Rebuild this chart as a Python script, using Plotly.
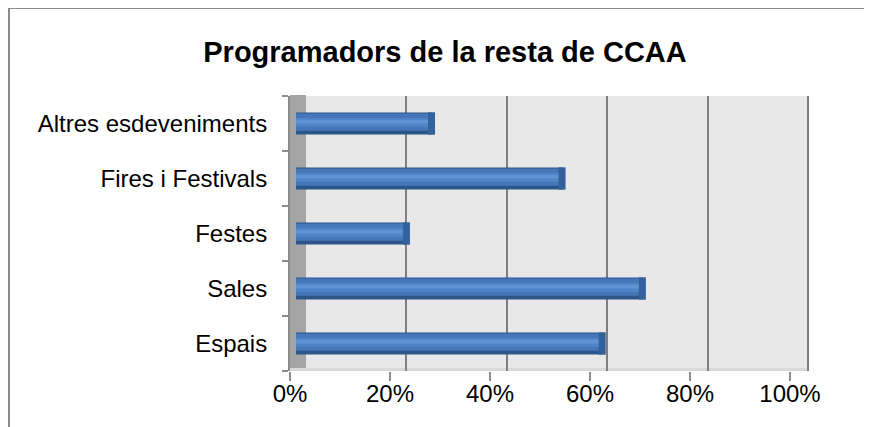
import plotly.graph_objects as go

W, H = 872, 427
# the page body adds an 8px margin, so positions are measured relative to it
PAGE_OFFSET = 8

categories = ["Espais", "Sales", "Festes", "Fires i Festivals", "Altres esdeveniments"]
values = [61, 69, 22, 53, 27]
tick_vals = [0, 20, 40, 60, 80, 100]
tick_text = ["0%", "20%", "40%", "60%", "80%", "100%"]

FONT = "Arial, Liberation Sans, sans-serif"


def px(x):
    return (x - PAGE_OFFSET) / W


def py(y):
    return 1 - (y - PAGE_OFFSET) / H


fig = go.Figure()

# invisible traces so the label axis (x) and grid axis (x2) get drawn
for ax in ["x", "x2"]:
    fig.add_trace(
        go.Scatter(
            x=values, y=categories, xaxis=ax, mode="markers",
            marker={"opacity": 0}, hoverinfo="skip", showlegend=False,
        )
    )

# cylinder look: dark base, main body, light highlight
for width, offset, color in [
    (0.40, -0.20, "#2d5688"),
    (0.31, -0.13, "#4677b8"),
    (0.16, -0.06, "#4f84c8"),
    (0.07, 0.00, "#5e93d4"),
]:
    fig.add_trace(
        go.Bar(
            x=values,
            y=categories,
            orientation="h",
            width=width,
            offset=offset,
            marker={"color": color, "line": {"width": 0}},
            xaxis="x3",
            hoverinfo="skip",
            showlegend=False,
        )
    )

# end caps of the cylinders
fig.add_trace(
    go.Scatter(
        x=values,
        y=categories,
        xaxis="x3",
        mode="markers",
        marker={
            "symbol": "line-ns-open",
            "size": 16,
            "color": "#33619b",
            "line": {"width": 7, "color": "#33619b"},
        },
        hoverinfo="skip",
        showlegend=False,
    )
)

top, floor, bottom = 96, 368, 371

fig.update_layout(
    width=W,
    height=H,
    margin={"l": 0, "r": 0, "t": 0, "b": 0},
    paper_bgcolor="white",
    plot_bgcolor="rgba(0,0,0,0)",
    barmode="overlay",
    font={"family": FONT, "size": 24, "color": "black"},
    title={
        "text": "<b>Programadors de la resta de CCAA</b>",
        "x": px(445),
        "y": py(52),
        "xanchor": "center",
        "yanchor": "middle",
        "font": {"size": 29, "family": FONT},
    },
    xaxis={
        "domain": [px(290), px(790)],
        "range": [0, 100],
        "tickvals": tick_vals,
        "ticktext": tick_text,
        "ticks": "outside",
        "ticklen": 9,
        "tickcolor": "#8c8c8c",
        "tickwidth": 2,
        "ticklabelstandoff": -8,
        "showgrid": False,
        "zeroline": False,
        "automargin": False,
        "fixedrange": True,
    },
    xaxis2={
        "domain": [px(306), px(811)],
        "range": [0, 100.6],
        "anchor": "y",
        "tickvals": [20, 40, 60, 80, 100],
        "showticklabels": False,
        "ticks": "",
        "showgrid": True,
        "gridcolor": "#7f7f7f",
        "gridwidth": 2,
        "zeroline": False,
        "automargin": False,
        "fixedrange": True,
    },
    xaxis3={
        "domain": [px(296), px(798)],
        "range": [0, 100],
        "anchor": "y",
        "visible": False,
        "automargin": False,
        "fixedrange": True,
    },
    yaxis={
        "domain": [py(bottom), py(top)],
        "range": [-0.5, 4.5],
        "type": "category",
        "ticks": "outside",
        "tickson": "boundaries",
        "ticklen": 6,
        "tickcolor": "#8c8c8c",
        "tickwidth": 2,
        "showline": True,
        "linecolor": "#8c8c8c",
        "linewidth": 2,
        "ticklabelstandoff": 16,
        "showgrid": False,
        "automargin": False,
        "fixedrange": True,
    },
    shapes=[
        # back wall
        dict(type="rect", xref="paper", yref="paper", layer="below",
             x0=px(306), x1=px(809), y0=py(floor), y1=py(top),
             fillcolor="#e8e8e8", line={"width": 0}),
        # floor
        dict(type="rect", xref="paper", yref="paper", layer="below",
             x0=px(290), x1=px(809), y0=py(bottom), y1=py(floor),
             fillcolor="#d9d9d9", line={"width": 0}),
        # side wall
        dict(type="rect", xref="paper", yref="paper", layer="below",
             x0=px(290), x1=px(306), y0=py(floor), y1=py(top - 1),
             fillcolor="#a5a5a5", line={"width": 0}),
        # chart border (runs off the window at right and bottom)
        dict(type="line", xref="paper", yref="paper",
             x0=px(9), x1=1.05, y0=py(8), y1=py(8),
             line={"color": "#8c8c8c", "width": 2}),
        dict(type="line", xref="paper", yref="paper",
             x0=px(9), x1=px(9), y0=py(8), y1=-0.05,
             line={"color": "#8c8c8c", "width": 2}),
    ],
)

fig.write_html("out.html")
